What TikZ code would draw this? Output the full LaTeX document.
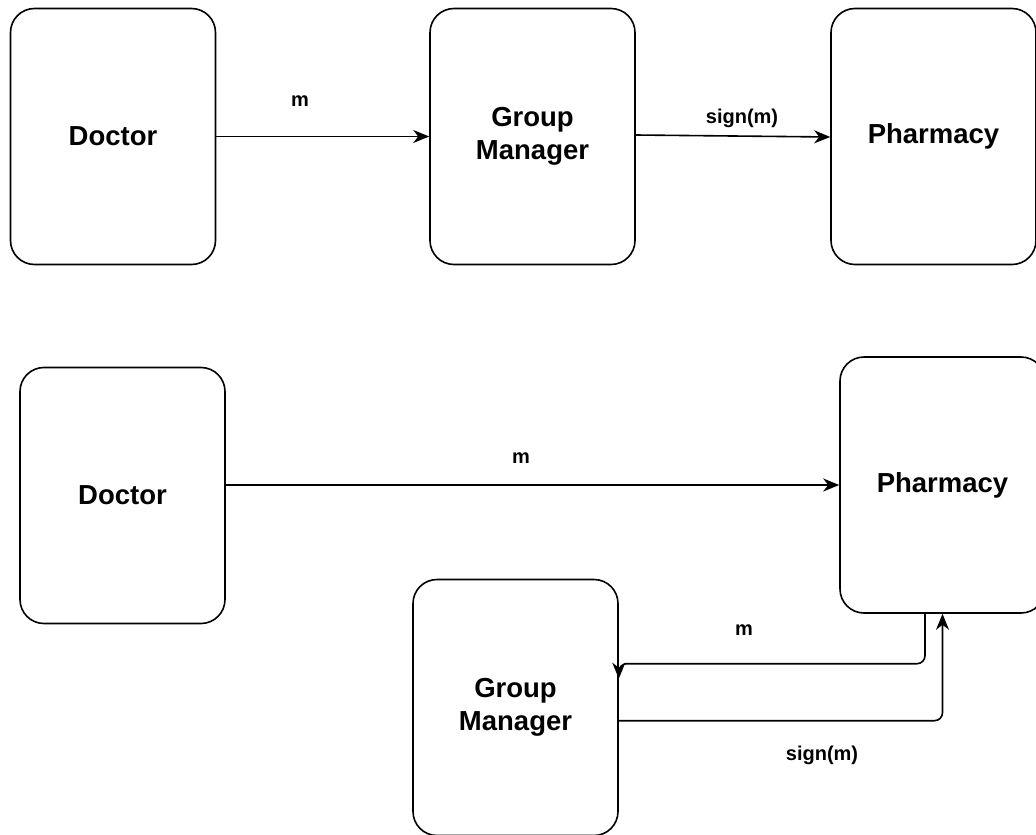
\documentclass[tikz,border=0pt]{standalone}
\usepackage{fontspec}
\setmainfont{Liberation Sans}
\usetikzlibrary{arrows.meta,calc}
\tikzset{
  box/.style={draw=black, line width=1.6pt, rounded corners=24pt, fill=white,
    minimum width=205pt, minimum height=256pt, inner sep=0pt, align=center,
    font=\fontsize{27.5}{33}\selectfont\bfseries},
  arr/.style={line width=1.6pt, rounded corners=8pt,
    -{Stealth[length=16pt,width=13pt,inset=5pt]}},
  lbl/.style={font=\fontsize{20}{24}\selectfont\bfseries, inner sep=0pt}
}
\begin{document}
\begin{tikzpicture}[x=1pt,y=-1pt]
\useasboundingbox (0,0) rectangle (1036,835);
% top row
\node[box] (d1) at (113,136.5) {Doctor};
\node[box] (g1) at (532.5,136.5) {Group\\Manager};
\node[box] (p1) at (933.5,136.5) {Pharmacy};
\draw[arr] (d1.east) -- (g1.west);
\draw[arr] ([yshift=1.5pt]g1.east) -- ([yshift=-0.5pt]p1.west);
\node[lbl] (l1) at (300,101) {m};
\node[lbl] (l2) at (742,118) {sign(m)};
% bottom row
\node[box] (d2) at (122.5,495.5) {Doctor};
\node[box] (p2) at (942.5,485) {Pharmacy};
\node[box] (g2) at (515.5,707.5) {Group\\Manager};
\draw[arr] (d2.east |- p2.west) -- (p2.west);
\coordinate (pout) at ([xshift=-17.5pt]p2.south);
\coordinate (gbend) at ($(g2.north east)+(0,85)$);
\coordinate (gin) at ($(g2.north east)+(0,100)$);
\draw[arr] (pout) |- (gbend) -- (gin);
\coordinate (gout) at ($(g2.north east)+(0,142)$);
\draw[arr] (gout) -| (p2.south);
\node[lbl] (l3) at (521,458) {m};
\node[lbl] (l4) at (744,630) {m};
\node[lbl] (l5) at (822,755) {sign(m)};
\end{tikzpicture}
\end{document}
